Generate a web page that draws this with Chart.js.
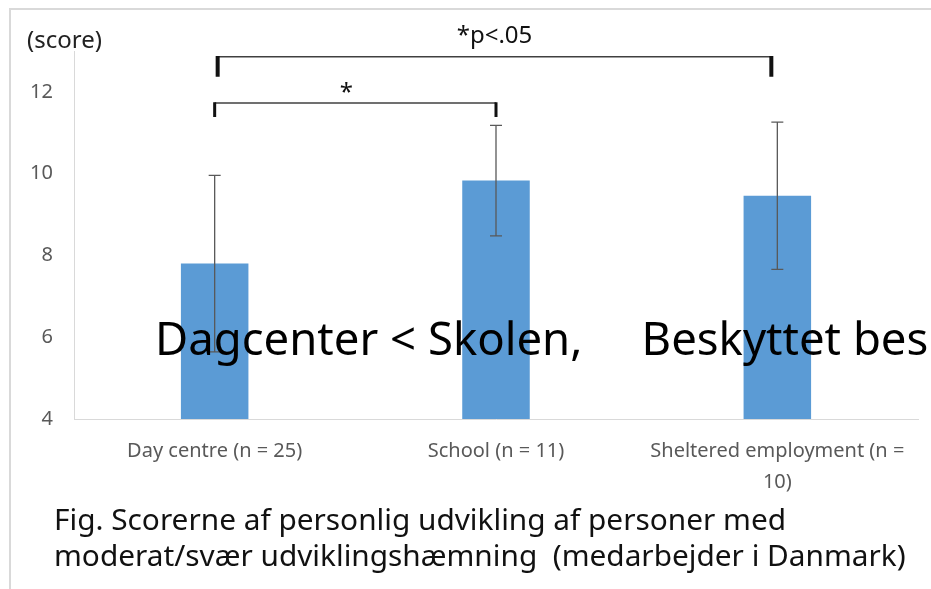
<!DOCTYPE html>
<html>
<head>
<meta charset="utf-8">
<script src="https://cdn.jsdelivr.net/npm/chart.js@4.4.1/dist/chart.umd.min.js"></script>
<style>
  html, body { margin: 0; padding: 0; background: #fff; }
</style>
</head>
<body>
<canvas id="chart" width="931" height="589"></canvas>
<script>
// values
const categories = [['Day centre (n = 25)'], ['School (n = 11)'], ['Sheltered employment (n =', '10)']];
const meanScores = [7.8, 9.83, 9.46];
const sdScores = [2.16, 1.35, 1.8];
const yTicks = [4, 6, 8, 10, 12];

// significance brackets between categories
const bracketFrom = [0, 0];
const bracketTo = [2, 1];
const bracketLabels = ['*p<.05', '*'];
const bracketLevels = [12.86, 11.73];

const FONT = '"Noto Sans", "Open Sans", sans-serif';

const decor = {
    id: 'decor',
    beforeDraw(chart) {
        const ctx = chart.ctx;
        ctx.save();
        ctx.fillStyle = '#fff';
        ctx.fillRect(0, 0, chart.width, chart.height);
        // picture frame
        ctx.strokeStyle = '#d9d9d9';
        ctx.lineWidth = 2;
        ctx.beginPath();
        ctx.moveTo(10, chart.height);
        ctx.lineTo(10, 9);
        ctx.lineTo(chart.width, 9);
        ctx.stroke();
        ctx.restore();
    },
    afterDatasetsDraw(chart) {
        const ctx = chart.ctx;
        const x = chart.scales.x, y = chart.scales.y;
        ctx.save();
        ctx.strokeStyle = '#595959';
        ctx.lineWidth = 1.3;
        meanScores.forEach((m, i) => {
            const px = x.getPixelForValue(i);
            const top = y.getPixelForValue(m + sdScores[i]);
            const bot = y.getPixelForValue(m - sdScores[i]);
            ctx.beginPath();
            ctx.moveTo(px, top); ctx.lineTo(px, bot);
            ctx.moveTo(px - 6, top); ctx.lineTo(px + 6, top);
            ctx.moveTo(px - 6, bot); ctx.lineTo(px + 6, bot);
            ctx.stroke();
        });
        ctx.restore();
    },
    afterDraw(chart) {
        const ctx = chart.ctx;
        const x = chart.scales.x, y = chart.scales.y;
        ctx.save();

        // brackets
        bracketFrom.forEach((f, i) => {
            const x1 = x.getPixelForValue(f) + (i === 0 ? 3 : 0);
            const x2 = x.getPixelForValue(bracketTo[i]) - (i === 0 ? 6 : 0);
            const yy = y.getPixelForValue(bracketLevels[i]);
            const drop = i === 0 ? 20 : 14;
            ctx.strokeStyle = '#404040';
            ctx.lineWidth = 1.6;
            ctx.beginPath();
            ctx.moveTo(x1, yy); ctx.lineTo(x2, yy);
            ctx.stroke();
            ctx.strokeStyle = '#111';
            ctx.lineWidth = i === 0 ? 4 : 3;
            ctx.beginPath();
            ctx.moveTo(x1, yy - 0.8); ctx.lineTo(x1, yy + drop);
            ctx.moveTo(x2, yy - 0.8); ctx.lineTo(x2, yy + drop);
            ctx.stroke();
            ctx.fillStyle = '#111';
            ctx.font = '24px ' + FONT;
            ctx.textAlign = 'center';
            ctx.textBaseline = 'alphabetic';
            const lx = (x1 + x2) / 2 - (i === 0 ? 0 : 9);
            ctx.fillText(bracketLabels[i], lx, yy - (i === 0 ? 14 : 3));
        });

        ctx.textAlign = 'left';
        ctx.textBaseline = 'alphabetic';

        // axis title
        ctx.fillStyle = '#222';
        ctx.font = '24px ' + FONT;
        ctx.fillText('(score)', 27, 48);

        // overlay text across the bars
        ctx.save();
        ctx.beginPath();
        ctx.rect(0, 0, 927, chart.height);
        ctx.clip();
        ctx.fillStyle = '#000';
        ctx.font = '45.5px ' + FONT;
        ctx.fillText('Dagcenter < Skolen,     Beskyttet beskæftigelse', 155, 355);
        ctx.restore();

        // caption
        ctx.fillStyle = '#111';
        ctx.font = '29.8px ' + FONT;
        ctx.fillText('Fig. Scorerne af personlig udvikling af personer med', 54, 530);
        ctx.fillText('moderat/svær udviklingshæmning  (medarbejder i Danmark)', 54, 566);
        ctx.restore();
    }
};

new Chart(document.getElementById('chart'), {
    type: 'bar',
    data: {
        labels: categories,
        datasets: [{
            data: meanScores,
            backgroundColor: '#5b9bd5',
            borderWidth: 0,
            categoryPercentage: 1,
            barPercentage: 0.24
        }]
    },
    options: {
        responsive: false,
        animation: false,
        layout: { padding: { left: 0, top: 51, right: 13, bottom: 0 } },
        plugins: { legend: { display: false }, tooltip: { enabled: false } },
        scales: {
            x: {
                grid: { display: false, drawTicks: false },
                border: { display: true, color: '#d9d9d9', width: 1 },
                ticks: {
                    color: '#595959',
                    font: { family: FONT, size: 20, lineHeight: 1.55 },
                    padding: 17,
                    maxRotation: 0,
                    autoSkip: false
                },
                afterFit(s) { s.height = 170; }
            },
            y: {
                min: 4,
                max: 13,
                grid: { display: false, drawTicks: false },
                border: { display: true, color: '#d9d9d9', width: 1 },
                afterBuildTicks(s) { s.ticks = yTicks.map(v => ({ value: v })); },
                ticks: {
                    color: '#595959',
                    font: { family: FONT, size: 20 },
                    padding: 21
                },
                afterFit(s) { s.width = 74; }
            }
        }
    },
    plugins: [decor]
});
</script>
</body>
</html>
